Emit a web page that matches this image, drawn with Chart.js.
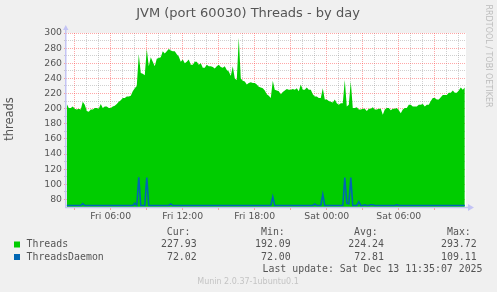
<!DOCTYPE html>
<html>
<head>
<meta charset="utf-8">
<script src="https://cdn.jsdelivr.net/npm/chart.js@4"></script>
<style>
  html, body { margin: 0; padding: 0; background: #f0f0f0; }
  canvas { display: block; }
</style>
</head>
<body>
<canvas id="c" width="497" height="292"></canvas>
<script>
// ---- data ----
const titleText = 'JVM (port 60030) Threads - by day';
const yAxisTitle = 'threads';
const seriesNames = ['Threads', 'ThreadsDaemon'];
const seriesColors = ['#00cc00', '#0066b3'];
const startHour = 2 + 20 / 60;   // Fri 02:20 (hours since Fri 00:00)
const stepMinutes = 10;
const xMin = 2.27, xMax = 35.6;
const xTickHours = [6, 12, 18, 24, 30];
const xTickLabels = ['Fri 06:00', 'Fri 12:00', 'Fri 18:00', 'Sat 00:00', 'Sat 06:00'];
const yMin = 70, yMax = 300;
const yTickLabels = [80, 100, 120, 140, 160, 180, 200, 220, 240, 260, 280, 300];

const threads = [
  206,201,201,203,200,199,200,199,209,205,197,196,199,199,201,201,200,206,201,203,
  203,201,201,203,204,206,209,211,214,214,216,216,217,223,227,230,272,247,246,244,
  279,256,268,262,256,266,267,268,276,273,276,279,277,276,276,272,269,262,265,260,
  262,265,258,258,262,262,258,260,254,254,258,256,256,255,253,256,258,255,254,256,
  251,249,243,256,240,238,293.72,240,237,236,232,234,235,234,234,232,229,228,227,224,
  219,217,214,237,225,224,223,219,222,224,226,225,225,226,225,227,223,232,225,225,
  228,225,225,219,216,216,214,214,227,212,212,210,209,208,212,207,205,207,207,238,
  203,205,236,201,201,202,199,199,200,200,197,200,200,202,199,199,200,200,192.09,199,
  201,201,198,200,200,201,198,194,199,201,201,205,205,203,203,203,205,205,206,203,
  205,205,210,214,214,212,212,215,218,218,218,221,221,224,221,221,224,228,225,227.93
];
const threadsDaemon = [
  72,72,72,72,72,72,72,72,74.5,72,72,72,72,72,72,72,72,72,72,72,
  72,72,72,72,72,72,72,72,72,72,72,72,72,72,75,72,109.11,72,72,72,
  109,72,72,72,72,72,72,72,72,72,72,72,74,72,72,72,72,72,72,72,
  72,72,72,72,72,72,72,72,72,72,72,72,72,72,72,72,72,72,72,72,
  72,72,72,72,72,72,72,72,72,72,72,72,72,72,72,72,72,72,72,72,
  72,72,72,83.5,72,72,72,72,72,72,72,72,72,72,72,72,72,72,72,72,
  72,72,72,72,74,72,72,72,86.6,72,72,72,72,72,72,72,72,72,72,109,
  75,74,109,72,72,72,77,72,72,73,72,72,73,73,72,72,72,72,72,72,
  72,72,72,72,72,73,72,72,72,72,72,72,72,72,72,72,72,72,72,72,
  72,72,72,72,72,72,72,72,72,72,72,72,72,72,72,72,72,72,72,72.02
];
const statHeaders = ['Cur:', 'Min:', 'Avg:', 'Max:'];
const threadsStats = ['227.93', '192.09', '224.24', '293.72'];
const daemonStats = ['72.02', '72.00', '72.81', '109.11'];
const lastUpdate = 'Last update: Sat Dec 13 11:35:07 2025';
const sideText = 'RRDTOOL / TOBI OETIKER';
const footerText = 'Munin 2.0.37-1ubuntu0.1';

// ---- build points ----
function toPoints(arr) {
  return arr.map((v, i) => ({ x: startHour + i * stepMinutes / 60, y: v }));
}
const xGrid = []; for (let h = 3; h <= 35; h++) xGrid.push(h);
const yGrid = []; for (let v = yMin; v <= yMax; v += 10) yGrid.push(v);

const MAJOR = 'rgba(255,60,60,0.45)';
const MINOR = 'rgba(120,120,120,0.35)';
const TXT = '#555';
const AXIS = '#c4c4f4';

const plotBg = {
  id: 'plotBg',
  beforeDraw(chart) {
    const c = chart.ctx, a = chart.chartArea;
    c.save();
    c.fillStyle = '#ffffff';
    c.fillRect(a.left, a.top, a.right - a.left, a.bottom - a.top);
    c.restore();
  }
};

const decor = {
  id: 'decor',
  afterDraw(chart) {
    const c = chart.ctx, a = chart.chartArea;
    c.save();
    // axes
    c.strokeStyle = AXIS; c.lineWidth = 1.5;
    c.beginPath(); c.moveTo(a.left - 0.25, a.bottom + 1); c.lineTo(a.left - 0.25, a.top - 4); c.stroke();
    c.beginPath(); c.moveTo(a.left - 1, a.bottom + 0.5); c.lineTo(a.right + 4, a.bottom + 0.5); c.stroke();
    c.fillStyle = AXIS;
    c.beginPath(); c.moveTo(a.left - 3, a.top - 3); c.lineTo(a.left + 2.5, a.top - 3); c.lineTo(a.left - 0.25, a.top - 8); c.closePath(); c.fill();
    c.beginPath(); c.moveTo(a.right + 2, a.bottom - 3); c.lineTo(a.right + 2, a.bottom + 4); c.lineTo(a.right + 8, a.bottom + 0.5); c.closePath(); c.fill();

    // title
    c.fillStyle = TXT; c.textBaseline = 'middle';
    c.font = '13px "DejaVu Sans"'; c.textAlign = 'center';
    c.fillText(titleText, 248, 14);
    // y title
    c.save(); c.translate(10, 119); c.rotate(-Math.PI / 2);
    c.font = '11.5px "DejaVu Sans"'; c.fillText(yAxisTitle, 0, 0); c.restore();
    // side text
    c.save(); c.translate(488.5, 56); c.rotate(Math.PI / 2);
    c.fillStyle = '#bdbdbd'; c.font = '8px "DejaVu Sans"'; c.fillText(sideText, 0, 0); c.restore();

    // legend
    c.font = '9.9px "DejaVu Sans Mono"'; c.fillStyle = TXT;
    const hx = [166.7, 261, 354, 447];
    c.textAlign = 'left';
    statHeaders.forEach((h, i) => c.fillText(h, hx[i], 232.5));
    const rows = [[threadsStats, 244.5], [daemonStats, 257]];
    const vx = [196.7, 290.7, 384, 476.7];
    rows.forEach(([vals, y], r) => {
      c.fillStyle = seriesColors[r];
      c.fillRect(14, y - 3, 6, 6);
      c.fillStyle = TXT; c.textAlign = 'left';
      c.fillText(seriesNames[r], 26.5, y);
      c.textAlign = 'right';
      vals.forEach((v, i) => c.fillText(v, vx[i], y));
    });
    c.textAlign = 'right';
    c.fillText(lastUpdate, 482.5, 269);
    c.textAlign = 'center'; c.fillStyle = '#c4c4c4';
    c.font = '8px "DejaVu Sans"';
    c.fillText(footerText, 248, 281.5);
    c.restore();
  }
};

new Chart(document.getElementById('c').getContext('2d'), {
  type: 'line',
  data: {
    datasets: [
      { label: seriesNames[1], data: toPoints(threadsDaemon), borderColor: seriesColors[1],
        borderWidth: 1.6, pointRadius: 0, fill: false, tension: 0, order: 0 },
      { label: seriesNames[0], data: toPoints(threads), borderColor: seriesColors[0],
        backgroundColor: seriesColors[0], borderWidth: 0, pointRadius: 0, fill: 'start', tension: 0, order: 1 }
    ]
  },
  options: {
    responsive: false, animation: false, devicePixelRatio: 1,
    layout: { padding: { left: 0, top: 33, right: 31, bottom: 0 } },
    plugins: { legend: { display: false }, title: { display: false }, tooltip: { enabled: false } },
    scales: {
      x: {
        type: 'linear', min: xMin, max: xMax, z: 1,
        afterBuildTicks: s => { s.ticks = xGrid.map(v => ({ value: v })); },
        afterFit: s => { s.height = 85; },
        grid: {
          color: ctx => (ctx.tick && ctx.tick.value % 3 === 0) ? MAJOR : MINOR,
          tickColor: ctx => (ctx.tick && ctx.tick.value % 3 === 0) ? MAJOR : 'rgba(0,0,0,0)',
          lineWidth: 1, drawTicks: true, tickLength: 3
        },
        border: { display: false, dash: [1, 1] },
        ticks: {
          autoSkip: false, maxRotation: 0, padding: 1, color: TXT,
          font: { family: 'DejaVu Sans', size: 9.3 },
          callback: v => { const k = xTickHours.indexOf(v); return k >= 0 ? xTickLabels[k] : ''; }
        }
      },
      y: {
        type: 'linear', min: yMin, max: yMax, z: 1,
        afterBuildTicks: s => { s.ticks = yGrid.map(v => ({ value: v })); },
        afterFit: s => { s.width = 66; },
        grid: {
          color: ctx => (ctx.tick && ctx.tick.value === yMin) ? 'rgba(0,0,0,0)' : ((ctx.tick && ctx.tick.value % 20 === 0) ? MAJOR : MINOR),
          tickColor: ctx => (ctx.tick && ctx.tick.value === yMin) ? 'rgba(0,0,0,0)' : ((ctx.tick && ctx.tick.value % 20 === 0) ? MAJOR : MINOR),
          lineWidth: 1, drawTicks: true, tickLength: 2
        },
        border: { display: false, dash: [1, 1] },
        ticks: {
          autoSkip: false, padding: 2, color: TXT,
          font: { family: 'DejaVu Sans', size: 9.3 },
          callback: v => yTickLabels.includes(v) ? String(v) : ''
        }
      }
    }
  },
  plugins: [plotBg, decor]
});
</script>
</body>
</html>
